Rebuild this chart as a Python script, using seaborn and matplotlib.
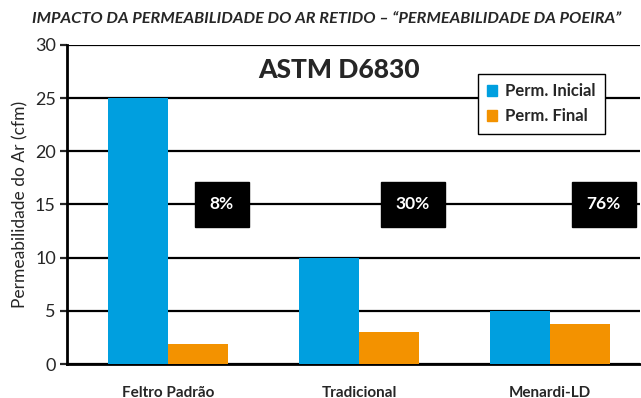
import pandas as pd
import matplotlib
matplotlib.use('Agg')
import matplotlib.pyplot as plt
import seaborn as sns

# data
categorias = ['Feltro Padrão', 'Tradicional', 'Menardi-LD']
perm_inicial = [25, 10, 5]
perm_final = [1.9, 3.0, 3.8]
retido = ['8%', '30%', '76%']
series = ['Perm. Inicial', 'Perm. Final']
cores = ['#009FDF', '#F39200']

df = pd.DataFrame({
    'cat': categorias * 2,
    'valor': perm_inicial + perm_final,
    'serie': [series[0]] * 3 + [series[1]] * 3,
})

sns.set_style('white')
plt.rcParams['font.family'] = ['Lato', 'DejaVu Sans']

fig = plt.figure(figsize=(6.41, 3.98), dpi=100)
ax = fig.add_axes([0.1045, 0.0854, 0.894, 0.8016])

sns.barplot(data=df, x='cat', y='valor', hue='serie', palette=cores,
            width=0.63, saturation=1, gap=0, ax=ax, legend=False, zorder=3,
            linewidth=0, edgecolor='none')

ax.set_ylim(0, 30)
ax.set_xlim(-0.53, 2.47)
ax.set_yticks(range(0, 31, 5))
ax.yaxis.grid(True, color='black', lw=1.6, zorder=0)
ax.set_axisbelow(True)
for s in ['top', 'right']:
    ax.spines[s].set_visible(False)
ax.spines['left'].set_linewidth(2)
ax.spines['bottom'].set_linewidth(2)
ax.spines['left'].set_color('black')
ax.spines['bottom'].set_color('black')
ax.tick_params(axis='y', left=True, length=5, width=1.6, labelsize=13, pad=3)
ax.tick_params(axis='x', bottom=False, labelsize=11, pad=12)
for lb in ax.get_xticklabels():
    lb.set_fontweight('bold')
ax.set_xlabel('')
ax.set_ylabel('Permeabilidade do Ar (cfm)', fontsize=12.5, labelpad=5)

# legend with square markers
handles = [plt.Rectangle((0, 0), 1, 1, color=c) for c in cores]
leg = ax.legend(handles, series, loc='upper left', bbox_to_anchor=(0.717, 0.909), frameon=True,
                fancybox=False, framealpha=1, edgecolor='black', handlelength=0.6,
                handleheight=0.6, handletextpad=0.5, borderpad=0.55, labelspacing=0.55,
                borderaxespad=0, prop={'weight': 'bold', 'size': 12})
leg.get_frame().set_linewidth(1)
leg.set_zorder(5)

ax.text(0.475, 0.92, 'ASTM D6830', transform=ax.transAxes, ha='center', va='center',
        fontsize=19, fontweight='black', zorder=6)

for i, t in enumerate(retido):
    ax.text(i + 0.28, 15, t, ha='center', va='center', color='white', fontsize=12.5,
            fontweight='bold', zorder=6,
            bbox=dict(boxstyle='square,pad=0.85', fc='black', ec='black'))

fig.text(0.51, 0.953, 'IMPACTO DA PERMEABILIDADE DO AR RETIDO – “PERMEABILIDADE DA POEIRA”',
         ha='center', va='center', fontsize=11.8, fontweight='bold', style='italic')

fig.savefig('out.png', dpi=100)
